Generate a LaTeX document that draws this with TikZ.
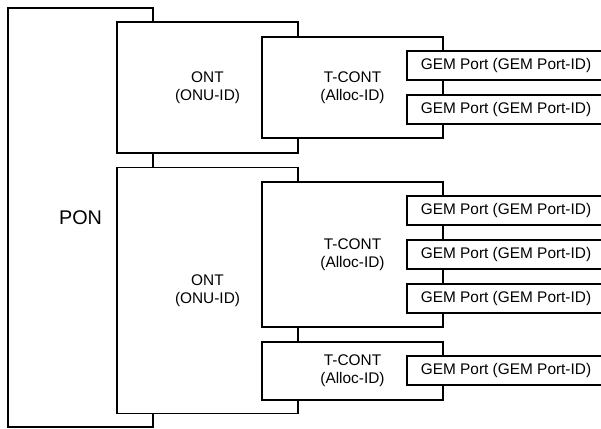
\documentclass[tikz,border=0pt]{standalone}
\usepackage{fontspec}
\setmainfont{Liberation Sans}
\usetikzlibrary{positioning}

\tikzset{
  blk/.style={draw,fill=white,line width=1.4pt,inner sep=0pt,outer sep=0pt,
    align=center,font=\fontsize{15.4}{18}\selectfont},
  gem/.style={blk,minimum width=198pt,minimum height=29pt}
}

\begin{document}
\begin{tikzpicture}[x=1pt,y=-1pt,node distance=15pt]
  \useasboundingbox (0,0) rectangle (601,428);

  \node[blk,minimum width=145pt,minimum height=419pt,
    font=\fontsize{19.8}{22}\selectfont] (pon) at (80.5,217.5) {PON};

  % ONTs
  \node[blk,minimum width=181pt,minimum height=131pt] (ont1) at (207.5,87.5) {ONT\\(ONU-ID)};
  \node[blk,minimum width=181pt,minimum height=246pt] (ont2) at (207.5,290.5) {ONT\\(ONU-ID)};

  % T-CONTs
  \node[blk,minimum width=181pt,minimum height=101pt] (tc1) at (352.5,87.5) {T-CONT\\(Alloc-ID)};
  \node[blk,minimum width=181pt,minimum height=145pt] (tc2) at (352.5,254.5) {T-CONT\\(Alloc-ID)};
  \node[blk,minimum width=181pt,minimum height=58pt] (tc3) at (352.5,371) {T-CONT\\(Alloc-ID)};

  % GEM ports
  \node[gem] (gem1) at (506,65.5) {GEM Port (GEM Port-ID)};
  \node[gem,below=of gem1] (gem2) {GEM Port (GEM Port-ID)};
  \node[gem] (gem3) at (506,210.5) {GEM Port (GEM Port-ID)};
  \node[gem,below=of gem3] (gem4) {GEM Port (GEM Port-ID)};
  \node[gem,below=of gem4] (gem5) {GEM Port (GEM Port-ID)};
  \node[gem] (gem6) at (506,370.5) {GEM Port (GEM Port-ID)};
\end{tikzpicture}
\end{document}
